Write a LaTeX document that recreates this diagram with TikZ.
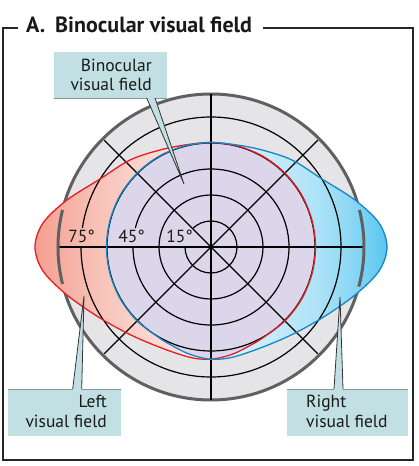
\documentclass[tikz,border=0pt]{standalone}
\usepackage{fontspec}
\setmainfont{PT Sans}
\definecolor{lav}{RGB}{220,214,234}
\definecolor{disc}{RGB}{229,229,231}
\definecolor{rim}{RGB}{96,96,96}
\definecolor{redl}{RGB}{228,30,38}
\definecolor{bluel}{RGB}{22,134,202}
\definecolor{boxc}{RGB}{194,223,227}
\definecolor{boxedge}{RGB}{140,150,152}
\definecolor{lf0}{RGB}{243,159,145}
\definecolor{lf1}{RGB}{248,195,185}
\definecolor{lf2}{RGB}{253,226,220}
\definecolor{lf3}{RGB}{255,241,238}
\definecolor{rf0}{RGB}{240,250,254}
\definecolor{rf1}{RGB}{228,245,252}
\definecolor{rf2}{RGB}{176,227,247}
\definecolor{rf3}{RGB}{140,215,244}
\definecolor{rf4}{RGB}{88,199,239}
\pgfdeclarehorizontalshading{lfield}{100bp}{color(0bp)=(lf0); color(25bp)=(lf0); color(36.6bp)=(lf1); color(50bp)=(lf2); color(56.4bp)=(lf3); color(75bp)=(white); color(100bp)=(white)}
\pgfdeclarehorizontalshading{rfield}{100bp}{color(0bp)=(rf0); color(25bp)=(rf0); color(43.6bp)=(rf1); color(62.1bp)=(rf2); color(68.5bp)=(rf3); color(75bp)=(rf4); color(100bp)=(rf4)}
\def\redpath{plot[smooth cycle,tension=0.55] coordinates{(52.3,-90.5) (73.9,-73.9) (90.5,-52.3) (100.9,-27.0) (104.5,0) (100.9,27.0) (90.5,52.3) (73.9,73.9) (52.3,90.5) (27.0,100.9) (0,104.5) (-26,102) (-51,97) (-81,87) (-111,68) (-144,47) (-168,24) (-176,0) (-168,-24) (-144,-48) (-111,-71) (-78,-89) (-44,-103) (-18,-111) (2,-112) (22,-107) (40,-98)}}
\def\bluepath{plot[smooth cycle,tension=0.55] coordinates{(-52.3,-90.5) (-73.9,-73.9) (-90.5,-52.3) (-100.9,-27.0) (-104.5,0) (-100.9,27.0) (-90.5,52.3) (-73.9,73.9) (-52.3,90.5) (-27.0,100.9) (0,104.5) (26,102) (51,97) (81,87) (111,68) (144,47) (168,24) (176,0) (168,-24) (144,-48) (111,-71) (78,-89) (44,-103) (18,-111) (-2,-112) (-22,-107) (-40,-98)}}
\begin{document}
\begin{tikzpicture}[x=1pt,y=1pt,
  grid/.style={line width=1.2pt,black},
  rimline/.style={line width=3pt,rim},
  lbl/.style={inner sep=0pt,font=\fontsize{17.5}{21}\selectfont,text=black!90},
  boxfill/.style={fill=boxc,draw=none,inner sep=0pt},
  tailline/.style={line width=0.8pt,black!80},
  edgeline/.style={line width=1pt,boxedge},
  frameline/.style={line width=1.1pt,black!85},
  titlefont/.style={inner sep=0pt,anchor=base west,font=\bfseries\fontsize{22}{26}\selectfont,text=black!90}]
\useasboundingbox (-211,-219) rectangle (208,247);
% grey disc
\fill[disc] (0,0) circle (153);
\draw[rimline] (0,0) circle (153);
% fields
\shade[shading=lfield] \redpath;
\shade[shading=rfield] \bluepath;
\begin{scope}
  \clip \redpath;
  \fill[lav] \bluepath;
\end{scope}
% grid circles
\draw[grid] (180:26) arc[start angle=180,end angle=494,radius=26];
\draw[grid] (0,0) circle (52);
\draw[grid] (180:78) arc[start angle=180,end angle=526,radius=78];
\draw[grid] (0,0) circle (104);
\draw[grid] (180:130) arc[start angle=180,end angle=531.6,radius=130];
% spokes
\coordinate (c) at (0,0);
\draw[grid] (180:153) -- (0:153);
\draw[grid] (90:153) -- (270:153);
\draw[grid] (135:151) -- (315:151);
\draw[grid] (45:151) -- (225:151);
% rim pieces inside the lobes
\draw[rimline] (166:153) arc[start angle=166,end angle=194,radius=153];
\draw[rimline] (-15:153) arc[start angle=-15,end angle=14,radius=153];
% field outlines
\draw[redl,line width=1.3pt] \redpath;
\draw[bluel,line width=1.3pt] \bluepath;
% degree labels
\node[lbl,anchor=base east] (d75) at (-116,5) {75°};
\node[lbl,anchor=base east] (d45) at (-66,5) {45°};
\node[lbl,anchor=base east] (d15) at (-18,5) {15°};
% binocular callout
\node[boxfill,minimum width=113pt,minimum height=46pt,anchor=north west] (bbox) at (-157,195) {};
\draw[edgeline] (bbox.south west) -- (bbox.south east);
\coordinate (btip) at (-27,63);
\fill[boxc] (-64.3,150) -- (btip) -- (-56,150) -- cycle;
\draw[tailline] (-64.3,149) -- (btip) -- (-56,149);
\node[lbl,anchor=base east] (bt1) at (-59,175.5) {Binocular};
\node[lbl,anchor=base east] (bt2) at (-59,156.5) {visual field};
% left callout
\node[boxfill,minimum width=113pt,minimum height=47pt,anchor=north west] (lbox) at (-203,-142) {};
\draw[edgeline] (lbox.north west) -- (lbox.north east);
\coordinate (ltip) at (-127,-49);
\fill[boxc] (-138.3,-143) -- (ltip) -- (-129.3,-143) -- cycle;
\draw[tailline] (-138.3,-142) -- (ltip) -- (-129.3,-142);
\node[lbl,anchor=base east] (lt1) at (-104,-160) {Left};
\node[lbl,anchor=base east] (lt2) at (-104,-180) {visual field};
% right callout
\node[boxfill,minimum width=121pt,minimum height=47pt,anchor=north west] (rbox) at (76,-142) {};
\draw[edgeline] (rbox.north west) -- (rbox.north east);
\coordinate (rtip) at (129,-50);
\fill[boxc] (123,-143) -- (rtip) -- (132,-143) -- cycle;
\draw[tailline] (123,-142) -- (rtip) -- (132,-142);
\node[lbl,anchor=base west] (rt1) at (95,-160) {Right};
\node[lbl,anchor=base west] (rt2) at (95,-180) {visual field};
% frame and title
\draw[frameline] (-193,219) -- (-208,219) -- (-208,-213) -- (202,-213) -- (202,219) -- (52,219);
\node[titlefont] (ta) at (-185,214) {A.};
\node[titlefont] (tt) at (-156,214) {Binocular visual field};
\end{tikzpicture}
\end{document}
